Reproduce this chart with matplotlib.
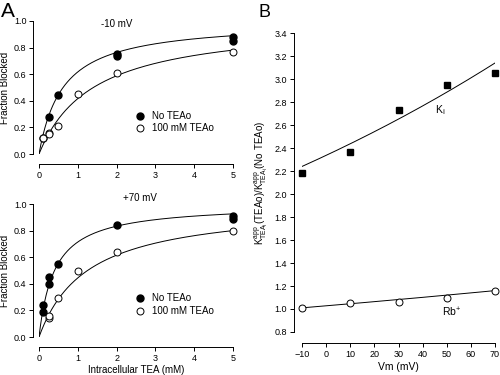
import numpy as np
import matplotlib
matplotlib.use('Agg')
import matplotlib.pyplot as plt

plt.rcParams.update({
    'font.family': ['Liberation Sans', 'DejaVu Sans'],
    'mathtext.default': 'regular',
    'font.size': 7,
})

# --- Panel A data (fraction blocked vs intracellular TEA, mM) ---
m10_no_x = [0.1, 0.25, 0.5, 2, 2, 5, 5]
m10_no_y = [0.12, 0.28, 0.44, 0.75, 0.74, 0.88, 0.85]
m10_teao_x = [0.1, 0.25, 0.25, 0.5, 1, 2, 5]
m10_teao_y = [0.12, 0.16, 0.15, 0.21, 0.45, 0.61, 0.77]
m10_K = [0.62, 1.40]   # fitted K for No TEAo / 100 mM TEAo

p70_no_x = [0.1, 0.1, 0.25, 0.25, 0.5, 2, 5, 5]
p70_no_y = [0.24, 0.19, 0.45, 0.40, 0.55, 0.84, 0.91, 0.89]
p70_teao_x = [0.25, 0.25, 0.5, 1, 2, 5]
p70_teao_y = [0.14, 0.16, 0.29, 0.50, 0.64, 0.80]
p70_K = [0.40, 1.25]

# --- Panel B data (ratio vs Vm) ---
vm = [-10, 10, 30, 50, 70]
ratio_k = [2.18, 2.37, 2.73, 2.945, 3.05]
ratio_rb = [1.01, 1.05, 1.06, 1.10, 1.16]
fit_k_ends = [2.24, 3.14]
fit_rb_ends = [1.01, 1.16]

fig = plt.figure(figsize=(5, 3.75), dpi=100)


def style_axes(ax, left_off, bottom_off):
    ax.spines['top'].set_visible(False)
    ax.spines['right'].set_visible(False)
    ax.spines['left'].set_position(('outward', left_off))
    ax.spines['bottom'].set_position(('outward', bottom_off))
    for s in ['left', 'bottom']:
        ax.spines[s].set_linewidth(0.7)
    ax.tick_params(direction='out', length=3, width=0.7, labelsize=6.5, pad=2)


def hill_panel(ax, no_x, no_y, te_x, te_y, K, title, tx, ty, ly):
    xs = np.linspace(0, 5, 300)
    ax.plot(xs, xs / (xs + K[0]), color='black', lw=0.7)
    ax.plot(xs, xs / (xs + K[1]), color='black', lw=0.7)
    ax.plot(no_x, no_y, 'o', color='black', ms=5, clip_on=False, zorder=3)
    ax.plot(te_x, te_y, 'o', mfc='white', mec='black', mew=0.7, ms=5,
            clip_on=False, zorder=3)
    ax.set_xlim(0, 5)
    ax.set_ylim(0, 1)
    ax.set_xticks([0, 1, 2, 3, 4, 5])
    ax.set_yticks(np.arange(0, 1.01, 0.2))
    ax.set_yticklabels(['%.1f' % v for v in np.arange(0, 1.01, 0.2)])
    ax.set_ylabel('Fraction Blocked', fontsize=7, labelpad=3)
    ax.text(tx, ty, title, ha='center', va='center', fontsize=7)
    ax.plot([2.6], [ly[0]], 'o', color='black', ms=5)
    ax.plot([2.6], [ly[1]], 'o', mfc='white', mec='black', mew=0.7, ms=5)
    ax.text(2.9, ly[0], 'No TEAo', va='center', fontsize=7)
    ax.text(2.9, ly[1], '100 mM TEAo', va='center', fontsize=7)
    style_axes(ax, 4, 7)


axA1 = fig.add_axes([0.078, 0.5893, 0.388, 0.3547])
hill_panel(axA1, m10_no_x, m10_no_y, m10_teao_x, m10_teao_y, m10_K,
           '-10 mV', 2.0, 0.98, [0.286, 0.195])

axA2 = fig.add_axes([0.078, 0.1013, 0.388, 0.3547])
hill_panel(axA2, p70_no_x, p70_no_y, p70_teao_x, p70_teao_y, p70_K,
           '+70 mV', 2.6, 1.045, [0.293, 0.195])
axA2.set_xlabel('Intracellular TEA (mM)', fontsize=7, labelpad=1.5)

# Panel B
axB = fig.add_axes([0.604, 0.1147, 0.386, 0.797])
vv = np.linspace(-10, 70, 200)
bk = np.log(fit_k_ends[1] / fit_k_ends[0]) / 80
axB.plot(vv, fit_k_ends[0] * np.exp(bk * (vv + 10)), color='black', lw=0.7)
br = np.log(fit_rb_ends[1] / fit_rb_ends[0]) / 80
axB.plot(vv, fit_rb_ends[0] * np.exp(br * (vv + 10)), color='black', lw=0.7)
axB.plot(vm, ratio_k, 's', color='black', ms=4.5, clip_on=False, zorder=3)
axB.plot(vm, ratio_rb, 'o', mfc='white', mec='black', mew=0.7, ms=5,
         clip_on=False, zorder=3)
axB.set_xlim(-10, 70)
axB.set_ylim(0.8, 3.4)
axB.set_xticks(np.arange(-10, 71, 10))
axB.set_yticks(np.arange(0.8, 3.41, 0.2))
axB.set_yticklabels(['%.1f' % v for v in np.arange(0.8, 3.41, 0.2)])
axB.set_xlabel('Vm (mV)', fontsize=7.5, labelpad=2)
axB.set_ylabel(r'K$^{app}_{TEA_i}$(TEAo)/K$^{app}_{TEA_i}$(No TEAo)',
               fontsize=7, labelpad=3)
axB.text(45, 2.73, r'K$_{\rm i}$', fontsize=7.5, va='center')
axB.text(48, 0.97, r'Rb$^{+}$', fontsize=7.5, va='center')
style_axes(axB, 6, 8)

fig.text(0.002, 0.995, 'A', fontsize=15, va='top', ha='left')
fig.text(0.518, 0.99, 'B', fontsize=13, va='top', ha='left')

fig.savefig('out.png', dpi=100)
